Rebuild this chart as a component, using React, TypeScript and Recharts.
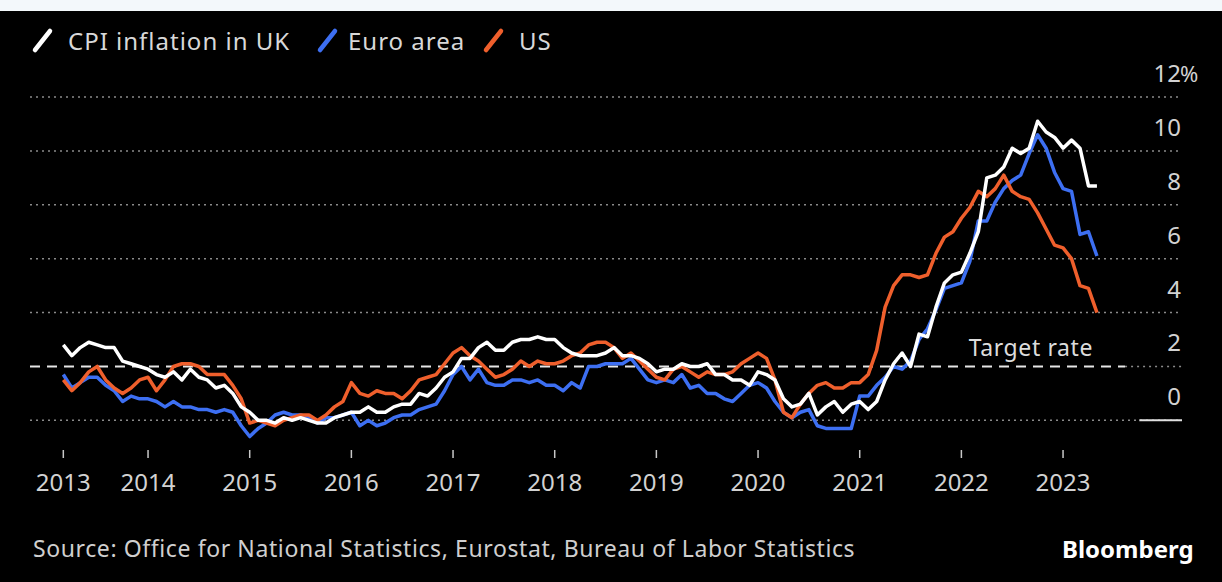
import React from 'react';
import {
  CartesianGrid,
  Legend,
  Line,
  LineChart,
  ReferenceLine,
  XAxis,
  YAxis,
} from 'recharts';

const FONT = '"Noto Sans", "Open Sans", sans-serif';

// monthly series, March 2013 .. May 2023 (annual % change)
const START_YEAR = 2013;
const START_MONTH = 3;

const ukCpi = [
  2.8, 2.4, 2.7, 2.9, 2.8, 2.7, 2.7, 2.2, 2.1, 2.0,
  1.9, 1.7, 1.6, 1.8, 1.5, 1.9, 1.6, 1.5, 1.2, 1.3, 1.0, 0.5,
  0.3, 0.0, 0.0, -0.1, 0.1, 0.0, 0.1, 0.0, -0.1, -0.1, 0.1, 0.2,
  0.3, 0.3, 0.5, 0.3, 0.3, 0.5, 0.6, 0.6, 1.0, 0.9, 1.2, 1.6,
  1.8, 2.3, 2.3, 2.7, 2.9, 2.6, 2.6, 2.9, 3.0, 3.0, 3.1, 3.0,
  3.0, 2.7, 2.5, 2.4, 2.4, 2.4, 2.5, 2.7, 2.4, 2.4, 2.3, 2.1,
  1.8, 1.9, 1.9, 2.1, 2.0, 2.0, 2.1, 1.7, 1.7, 1.5, 1.5, 1.3,
  1.8, 1.7, 1.5, 0.8, 0.5, 0.6, 1.0, 0.2, 0.5, 0.7, 0.3, 0.6,
  0.7, 0.4, 0.7, 1.5, 2.1, 2.5, 2.0, 3.2, 3.1, 4.2, 5.1, 5.4,
  5.5, 6.2, 7.0, 9.0, 9.1, 9.4, 10.1, 9.9, 10.1, 11.1, 10.7, 10.5,
  10.1, 10.4, 10.1, 8.7, 8.7,
];

const euroArea = [
  1.7, 1.2, 1.4, 1.6, 1.6, 1.3, 1.1, 0.7, 0.9, 0.8,
  0.8, 0.7, 0.5, 0.7, 0.5, 0.5, 0.4, 0.4, 0.3, 0.4, 0.3, -0.2,
  -0.6, -0.3, -0.1, 0.2, 0.3, 0.2, 0.2, 0.1, -0.1, 0.1, 0.1, 0.2,
  0.3, -0.2, 0.0, -0.2, -0.1, 0.1, 0.2, 0.2, 0.4, 0.5, 0.6, 1.1,
  1.7, 2.0, 1.5, 1.9, 1.4, 1.3, 1.3, 1.5, 1.5, 1.4, 1.5, 1.3,
  1.3, 1.1, 1.4, 1.2, 2.0, 2.0, 2.1, 2.1, 2.1, 2.3, 1.9, 1.5,
  1.4, 1.5, 1.4, 1.7, 1.2, 1.3, 1.0, 1.0, 0.8, 0.7, 1.0, 1.3,
  1.4, 1.2, 0.7, 0.3, 0.1, 0.3, 0.4, -0.2, -0.3, -0.3, -0.3, -0.3,
  0.9, 0.9, 1.3, 1.6, 2.0, 1.9, 2.2, 3.0, 3.4, 4.1, 4.9, 5.0,
  5.1, 5.9, 7.4, 7.4, 8.1, 8.6, 8.9, 9.1, 9.9, 10.6, 10.1, 9.2,
  8.6, 8.5, 6.9, 7.0, 6.1,
];

const usCpi = [
  1.5, 1.1, 1.4, 1.8, 2.0, 1.5, 1.2, 1.0, 1.2, 1.5,
  1.6, 1.1, 1.5, 2.0, 2.1, 2.1, 2.0, 1.7, 1.7, 1.7, 1.3, 0.8,
  -0.1, 0.0, -0.1, -0.2, 0.0, 0.1, 0.2, 0.2, 0.0, 0.2, 0.5, 0.7,
  1.4, 1.0, 0.9, 1.1, 1.0, 1.0, 0.8, 1.1, 1.5, 1.6, 1.7, 2.1,
  2.5, 2.7, 2.4, 2.2, 1.9, 1.6, 1.7, 1.9, 2.2, 2.0, 2.2, 2.1,
  2.1, 2.2, 2.4, 2.5, 2.8, 2.9, 2.9, 2.7, 2.3, 2.5, 2.2, 1.9,
  1.6, 1.5, 1.9, 2.0, 1.8, 1.6, 1.8, 1.7, 1.7, 1.8, 2.1, 2.3,
  2.5, 2.3, 1.5, 0.3, 0.1, 0.6, 1.0, 1.3, 1.4, 1.2, 1.2, 1.4,
  1.4, 1.7, 2.6, 4.2, 5.0, 5.4, 5.4, 5.3, 5.4, 6.2, 6.8, 7.0,
  7.5, 7.9, 8.5, 8.3, 8.6, 9.1, 8.5, 8.3, 8.2, 7.7, 7.1, 6.5,
  6.4, 6.0, 5.0, 4.9, 4.0,
];

// first tick sits on the first observation, the rest on January
const xTicks = [2013 + 2 / 12, 2014, 2015, 2016, 2017, 2018, 2019, 2020, 2021, 2022, 2023];
const yTicks = [0, 2, 4, 6, 8, 10, 12];
const TARGET = 2;
const X_MIN = 2012.839;
const X_MAX = 2024.17;
const TARGET_END = 2023.61;

const series = [
  { key: 'euro', name: 'Euro area', color: '#3d6ff2' },
  { key: 'us', name: 'US', color: '#ef5f2c' },
  { key: 'uk', name: 'CPI inflation in UK', color: '#ffffff' },
];
const legendOrder = ['uk', 'euro', 'us'];
// x of each legend swatch / text start
const legendPos: Record<string, [number, number]> = { uk: [33, 68], euro: [318, 348], us: [484, 519] };

const data = ukCpi.map((uk, i) => ({
  t: START_YEAR + (START_MONTH - 1 + i) / 12,
  uk,
  euro: euroArea[i],
  us: usCpi[i],
}));

const GRID = { stroke: '#8a8a8a', strokeWidth: 1.5, strokeDasharray: '2 4' };

const XTick = (props: any) => {
  const { x, y, payload } = props;
  return (
    <text x={x} y={y + 33} textAnchor="middle" fill="#d2d2d2" fontSize={24} fontFamily={FONT}>
      {Math.floor(payload.value + 0.001)}
    </text>
  );
};

const YTick = (props: any) => {
  const { x, y, payload } = props;
  const v = payload.value;
  return (
    <g>
      <text x={x - 1} y={y - 15} textAnchor="end" fill="#d2d2d2" fontSize={24} fontFamily={FONT}>
        {v}
      </text>
      {v === 12 && (
        <text x={x - 2} y={y - 15} textAnchor="start" fill="#d2d2d2" fontSize={22} fontFamily={FONT}>
          %
        </text>
      )}
    </g>
  );
};

const TargetLabel = (props: any) => {
  const { viewBox } = props;
  return (
    <text
      x={viewBox.x + viewBox.width - 89}
      y={viewBox.y - 10}
      textAnchor="end"
      fill="#dcdcdc"
      fontSize={23}
      letterSpacing={0.6}
      fontFamily={FONT}
    >
      Target rate
    </text>
  );
};

const LegendContent = () => (
  <svg width={600} height={56} style={{ display: 'block', overflow: 'visible' }}>
    {legendOrder.map((k) => {
      const s = series.find((d) => d.key === k)!;
      const [sx, tx] = legendPos[k];
      return (
        <g key={k}>
          <line x1={sx + 2} y1={35} x2={sx + 17} y2={16} stroke={s.color} strokeWidth={4.5} strokeLinecap="round" />
          <text x={tx} y={35} fill="#d8d8d8" fontSize={24} letterSpacing={1} fontFamily={FONT}>
            {s.name}
          </text>
        </g>
      );
    })}
  </svg>
);

export default function App() {
  return (
    <div
      style={{
        position: 'fixed',
        left: 0,
        top: 0,
        width: 1222,
        height: 582,
        background: '#000',
        overflow: 'hidden',
      }}
    >
      <div style={{ position: 'absolute', left: 0, top: 0, width: 1222, height: 11, background: '#f3f8fb' }} />
      <LineChart width={1222} height={582} data={data} margin={{ top: 97, right: 0, left: 30, bottom: 92 }}>
        <CartesianGrid vertical={false} horizontalValues={yTicks.filter((v) => v !== TARGET)} {...GRID} />
        <XAxis
          dataKey="t"
          type="number"
          domain={[X_MIN, X_MAX]}
          ticks={xTicks}
          tick={<XTick />}
          tickSize={8}
          tickMargin={0}
          tickLine={{ stroke: '#c8c8c8', strokeWidth: 1.5 }}
          axisLine={false}
          height={40}
          interval={0}
        />
        <YAxis
          orientation="right"
          type="number"
          domain={[-1.1, 12]}
          ticks={yTicks}
          tick={<YTick />}
          tickLine={false}
          tickSize={0}
          tickMargin={0}
          axisLine={false}
          width={40}
          interval={0}
        />
        <Legend
          layout="horizontal"
          verticalAlign="middle"
          align="center"
          content={<LegendContent />}
          wrapperStyle={{ top: 15, left: 0, width: 600, height: 56 }}
        />
        {/* dotted grid continues past the end of the target dash */}
        <ReferenceLine
          segment={[
            { x: TARGET_END, y: TARGET },
            { x: X_MAX, y: TARGET },
          ]}
          {...GRID}
        />
        <ReferenceLine
          segment={[
            { x: X_MIN, y: TARGET },
            { x: TARGET_END, y: TARGET },
          ]}
          stroke="#e6e6e6"
          strokeWidth={2}
          strokeDasharray="10 7"
        />
        <ReferenceLine y={TARGET} stroke="none" label={<TargetLabel />} />
        <ReferenceLine
          segment={[
            { x: 2023.75, y: 0 },
            { x: X_MAX, y: 0 },
          ]}
          stroke="#e0e0e0"
          strokeWidth={2}
        />
        {series.map((s) => (
          <Line
            key={s.key}
            type="linear"
            dataKey={s.key}
            name={s.name}
            stroke={s.color}
            strokeWidth={3.5}
            strokeLinejoin="round"
            dot={false}
            activeDot={false}
            isAnimationActive={false}
          />
        ))}
      </LineChart>
      <svg
        width={1222}
        height={582}
        style={{ position: 'absolute', left: 0, top: 0, pointerEvents: 'none' }}
      >
        <text x={33} y={557} fill="#cfcfcf" fontSize={23} letterSpacing={0.6} fontFamily={FONT}>
          Source: Office for National Statistics, Eurostat, Bureau of Labor Statistics
        </text>
        <text x={1062} y={558} fill="#ffffff" fontSize={24} fontWeight={700} fontFamily={FONT}>
          Bloomberg
        </text>
      </svg>
    </div>
  );
}
